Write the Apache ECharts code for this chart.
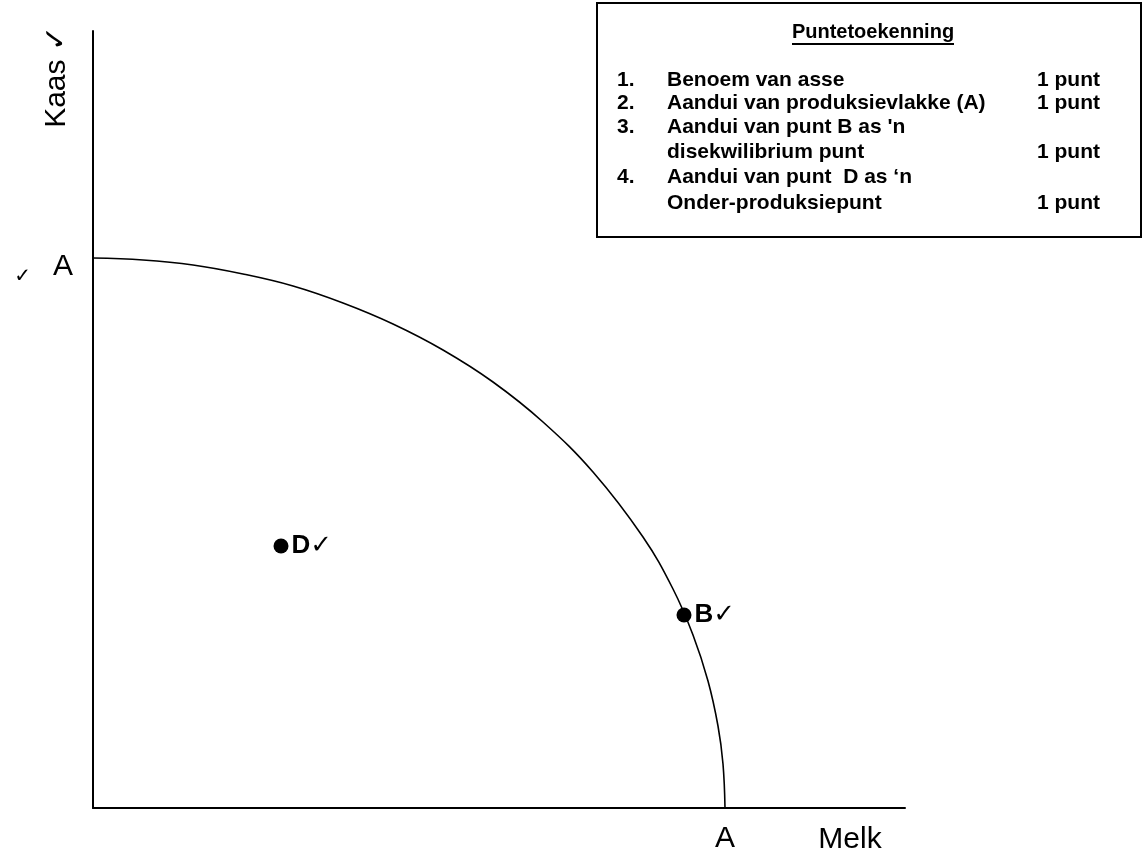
<!DOCTYPE html>
<html>
<head>
<meta charset="utf-8">
<script src="https://cdn.jsdelivr.net/npm/echarts@6/dist/echarts.min.js"></script>
<style>
  html, body { margin: 0; padding: 0; background: #fff; }
  #chart { width: 1143px; height: 852px; }
</style>
</head>
<body>
<div id="chart"></div>
<script>
//--------------------------------
// Data
//--------------------------------
// production possibility frontier (axis units)
const frontierX = [0, 50, 100, 150, 200, 250, 300, 350, 400, 450, 500, 550, 580, 600, 615, 625, 630, 632];
const frontierY = [550, 548, 543, 534, 522, 505, 484, 458, 426, 386, 336, 271, 219, 173, 127, 82, 44, 0];

const pointNames = ['D', 'B'];
const pointX = [188, 591];
const pointY = [262, 193];

const interceptX = [0, 632];
const interceptY = [550, 0];

const xTitle = 'Melk';
const yTitle = 'Kaas ✓';

const rubricTitle = 'Puntetoekenning';
const rubricNums = ['1.', '2.', '3.', '', '4.', ''];
const rubricText = [
    'Benoem van asse',
    'Aandui van produksievlakke (A)',
    "Aandui van punt B as 'n",
    'disekwilibrium punt',
    'Aandui van punt  D as ‘n',
    'Onder-produksiepunt'
];
const rubricPoints = ['1 punt', '1 punt', '', '1 punt', '', '1 punt'];

//--------------------------------
// Chart
//--------------------------------
const FONT = '"Liberation Sans", Arial, sans-serif';
const CHECK_FONT = '"DejaVu Sans", sans-serif';

const myChart = echarts.init(document.getElementById('chart'));

const frontier = frontierX.map((x, i) => [x, frontierY[i]]);
const points = pointX.map((x, i) => ({ value: [x, pointY[i]], name: pointNames[i] }));

// rubric box texts
const rubricLeft = 597, rubricTop = 3, rubricW = 544, rubricH = 234;
const rowY = [80, 103, 127, 152, 177, 203];
const titleX = 873;
let rubricChildren = [
    {
        type: 'rect',
        shape: { x: rubricLeft, y: rubricTop, width: rubricW, height: rubricH },
        style: { fill: '#fff', stroke: '#000', lineWidth: 2 }
    },
    {
        type: 'text',
        x: titleX, y: 32,
        style: { text: rubricTitle, font: 'bold 20px ' + FONT, fill: '#000', align: 'center', verticalAlign: 'middle' }
    },
    {
        type: 'line',
        shape: { x1: titleX - 81, y1: 44, x2: titleX + 81, y2: 44 },
        style: { stroke: '#000', lineWidth: 2 }
    }
];
rubricText.forEach((t, i) => {
    const y = rowY[i];
    rubricChildren.push({
        type: 'text', x: 617, y: y,
        style: { text: rubricNums[i], font: 'bold 21px ' + FONT, fill: '#000', verticalAlign: 'middle' }
    });
    rubricChildren.push({
        type: 'text', x: 667, y: y,
        style: { text: t, font: 'bold 21px ' + FONT, fill: '#000', verticalAlign: 'middle' }
    });
    rubricChildren.push({
        type: 'text', x: 1037, y: y,
        style: { text: rubricPoints[i], font: 'bold 21px ' + FONT, fill: '#000', verticalAlign: 'middle' }
    });
});

let options = {
    backgroundColor: '#fff',
    animation: false,
    grid: {
        left: 93,
        right: 238,
        top: 31,
        bottom: 44,
        containLabel: false
    },
    xAxis: {
        type: 'value',
        min: 0,
        max: 812,
        axisLine: { show: true, lineStyle: { color: '#000', width: 2 } },
        axisTick: { show: false },
        axisLabel: { show: false },
        splitLine: { show: false }
    },
    yAxis: {
        type: 'value',
        min: 0,
        max: 777,
        axisLine: { show: true, lineStyle: { color: '#000', width: 2 } },
        axisTick: { show: false },
        axisLabel: { show: false },
        splitLine: { show: false }
    },
    series: [
        {
            name: 'frontier',
            type: 'line',
            data: frontier,
            smooth: 0.4,
            showSymbol: false,
            lineStyle: { color: '#000', width: 1.6 },
            z: 2
        },
        {
            name: 'intercepts',
            type: 'scatter',
            symbolSize: 0,
            itemStyle: { color: '#000', opacity: 1 },
            data: [
                {
                    value: [interceptX[0], interceptY[0]],
                    label: {
                        show: true,
                        position: 'left',
                        distance: 20,
                        offset: [0, 9],
                        formatter: '{c|✓}{a|A}',
                        rich: {
                            c: { fontSize: 20, fontFamily: CHECK_FONT, color: '#000', padding: [20, 22, 0, 0] },
                            a: { fontSize: 30, fontFamily: FONT, color: '#000' }
                        }
                    }
                },
                {
                    value: [interceptX[1], interceptY[1]],
                    label: {
                        show: true,
                        position: 'bottom',
                        distance: 16,
                        formatter: 'A',
                        fontSize: 30,
                        fontFamily: FONT,
                        color: '#000'
                    }
                }
            ],
            z: 3
        },
        {
            name: 'points',
            type: 'scatter',
            data: points,
            symbol: 'circle',
            symbolSize: 15,
            itemStyle: { color: '#000', opacity: 1 },
            label: {
                show: true,
                position: 'right',
                distance: 3,
                formatter: (p) => '{b|' + p.name + '}{c|✓}',
                rich: {
                    b: { fontSize: 26, fontWeight: 'bold', fontFamily: FONT, color: '#000' },
                    c: { fontSize: 26, fontWeight: 'bold', fontFamily: CHECK_FONT, color: '#000' }
                }
            },
            z: 4
        }
    ],
    graphic: [
        {
            type: 'text',
            x: 850, y: 840,
            style: { text: xTitle, font: '30px ' + FONT, fill: '#000', align: 'center', verticalAlign: 'middle' }
        },
        {
            type: 'text',
            x: 57, y: 77,
            rotation: Math.PI / 2,
            style: { text: yTitle, font: '30px ' + FONT, fill: '#000', align: 'center', verticalAlign: 'middle' }
        },
        {
            type: 'group',
            children: rubricChildren
        }
    ]
};
myChart.setOption(options);
</script>
</body>
</html>
